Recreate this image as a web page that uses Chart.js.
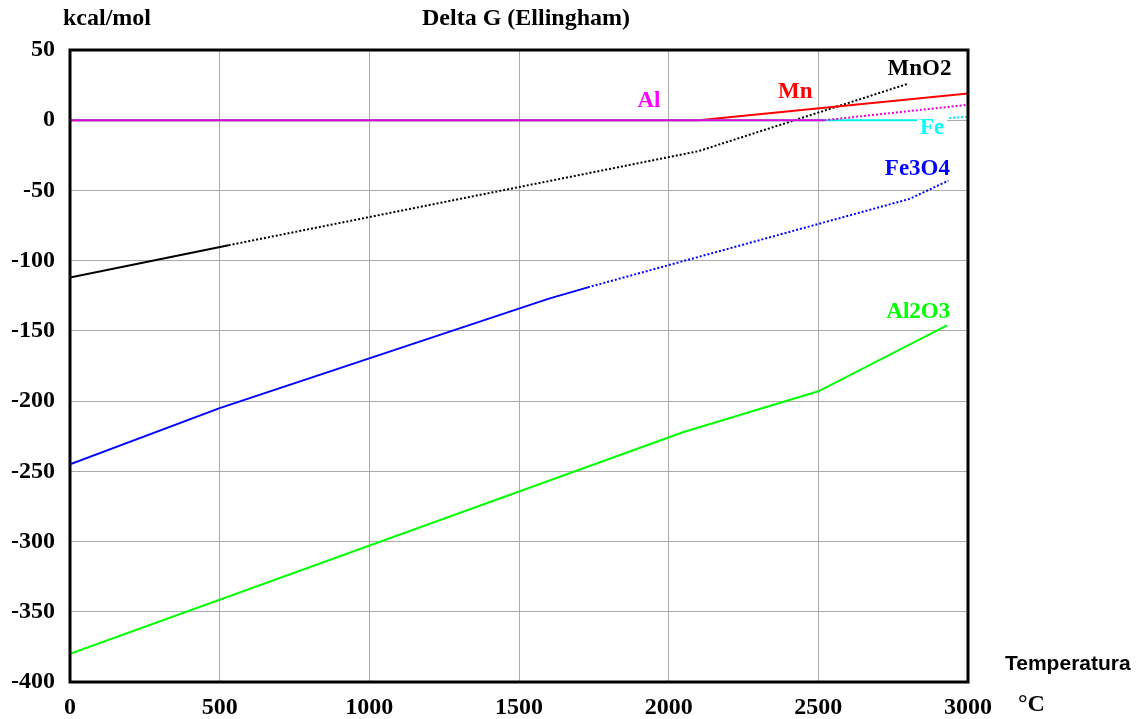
<!DOCTYPE html>
<html><head><meta charset="utf-8">
<script src="https://cdn.jsdelivr.net/npm/chart.js@4/dist/chart.umd.min.js"></script>
<style>html,body{margin:0;padding:0;background:#fff}#wrap{width:1147px;height:719px;position:relative}</style>
</head><body><div id="wrap"><canvas id="c"></canvas></div>
<script>
// Breakpoints of ΔG (kcal/mol) against temperature (°C) for each reaction
const mno2T  = [0, 530, 2100, 2800];
const mno2G  = [-112, -89, -22, 26];
const mnT    = [0, 2100, 3000];
const mnG    = [0, 0, 19];
const alT    = [0, 2520, 3000];
const alG    = [0, 0, 11];
const feT    = [0, 2830, 3000];
const feG    = [0, 0, 2.5];
const fe3o4T = [0, 500, 1600, 1730, 2805, 2935];
const fe3o4G = [-245, -205, -127, -119, -56, -43];
const al2o3T = [0, 2050, 2500, 2930];
const al2o3G = [-380, -222, -193, -146];

// Axis ticks
const xTicks = [0, 500, 1000, 1500, 2000, 2500, 3000];
const yTicks = [50, 0, -50, -100, -150, -200, -250, -300, -350, -400];

// Series names, colours, first dotted segment, label anchor (T, ΔG)
const names   = ['Al', 'Fe', 'Mn', 'MnO2', 'Fe3O4', 'Al2O3'];
const temps   = [alT, feT, mnT, mno2T, fe3o4T, al2o3T];
const values  = [alG, feG, mnG, mno2G, fe3o4G, al2o3G];
const colours = ['#ff00ff', '#00ffff', '#ff0000', '#000000', '#0000ff', '#00ff00'];
const lineColours = ['#e800d0', '#00f0f0', '#ff0000', '#000000', '#0000ff', '#00ff00'];
const dottedFrom = [1, 1, 99, 1, 3, 99];
const labelAt = [[1934, 14], [2880, -5], [2423, 21], [2838, 37], [2831, -34], [2834, -136]];

const datasets = names.map((n, i) => ({
  label: n,
  data: temps[i].map((t, k) => ({ x: t, y: values[i][k] })),
  borderColor: lineColours[i],
  borderWidth: 2,
  pointRadius: 0,
  tension: 0,
  order: i,
  segment: {
    borderDash: c => c.p0DataIndex >= dottedFrom[i] ? [2, 2] : undefined
  }
}));

const serif = '"Liberation Serif", "Times New Roman", serif';

const decorations = {
  id: 'decorations',
  afterDatasetsDraw(chart) {
    const { ctx, chartArea: a, scales: { x, y } } = chart;
    ctx.save();
    // series labels on white boxes
    ctx.font = 'bold 23px ' + serif;
    ctx.textAlign = 'center';
    ctx.textBaseline = 'middle';
    names.forEach((n, i) => {
      const px = x.getPixelForValue(labelAt[i][0]);
      const py = y.getPixelForValue(labelAt[i][1]);
      const w = ctx.measureText(n).width;
      ctx.fillStyle = '#fff';
      ctx.fillRect(px - w / 2 - 3, py - 12, w + 6, 24);
      ctx.fillStyle = colours[i];
      ctx.fillText(n, px, py + 1);
    });
    // plot frame
    ctx.strokeStyle = '#000';
    ctx.lineWidth = 3;
    ctx.strokeRect(a.left, a.top, a.right - a.left, a.bottom - a.top);
    // headings and units
    ctx.fillStyle = '#000';
    ctx.font = 'bold 24px ' + serif;
    ctx.textAlign = 'left';
    ctx.fillText('kcal/mol', 63, 19);
    ctx.textAlign = 'center';
    ctx.fillText('Delta G (Ellingham)', 526, 19);
    ctx.textAlign = 'left';
    ctx.fillText('°C', 1018, 705);
    ctx.font = 'bold 21px "Liberation Sans", Arial, sans-serif';
    ctx.fillText('Temperatura', 1005, 664);
    ctx.restore();
  }
};

new Chart(document.getElementById('c'), {
  type: 'line',
  data: { datasets },
  options: {
    responsive: true,
    maintainAspectRatio: false,
    animation: false,
    events: [],
    layout: { padding: { top: 50, right: 179, left: 0, bottom: 0 } },
    plugins: { legend: { display: false }, tooltip: { enabled: false }, title: { display: false } },
    scales: {
      x: {
        type: 'linear',
        min: xTicks[0],
        max: xTicks[xTicks.length - 1],
        afterBuildTicks: s => { s.ticks = xTicks.map(v => ({ value: v })); },
        afterFit: s => { s.height = 37; },
        border: { display: false },
        grid: { color: '#ababab', lineWidth: 1, drawTicks: false },
        ticks: { color: '#000', padding: 11, maxRotation: 0, callback: v => String(v),
                 font: { family: serif, size: 24, weight: 'bold' } }
      },
      y: {
        type: 'linear',
        min: yTicks[yTicks.length - 1],
        max: yTicks[0],
        afterBuildTicks: s => { s.ticks = yTicks.slice().reverse().map(v => ({ value: v })); },
        afterFit: s => { s.width = 70; },
        border: { display: false },
        grid: { color: '#ababab', lineWidth: 1, drawTicks: false },
        ticks: { color: '#000', padding: 15, callback: v => String(v),
                 font: { family: serif, size: 24, weight: 'bold' } }
      }
    }
  },
  plugins: [decorations]
});
</script>
</body></html>
